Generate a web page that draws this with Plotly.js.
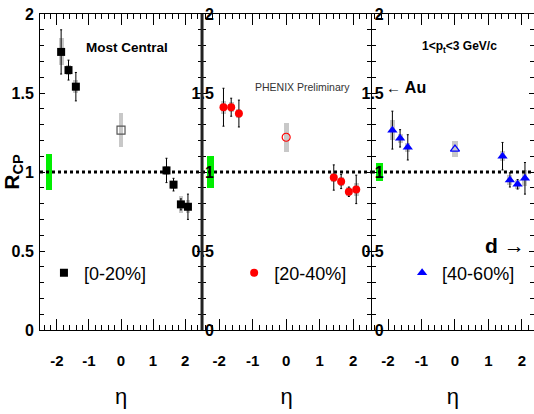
<!DOCTYPE html>
<html>
<head>
<meta charset="utf-8">
<script src="https://cdn.plot.ly/plotly-3.0.1.min.js"></script>
<style>html,body{margin:0;padding:0;background:#fff;}</style>
</head>
<body>
<div id="chart" style="width:534px;height:414px;"></div>
<script>
// ---- data ----
const etaPts = [-1.87, -1.64, -1.41, 1.42, 1.64, 1.87, 2.09];
const r020 = [1.76, 1.645, 1.54, 1.01, 0.92, 0.795, 0.78];
const stat020 = [0.14, 0.063, 0.09, 0.077, 0.04, 0.035, 0.08];
const sys020 = [0.085, 0.03, 0.04, 0.03, 0.025, 0.053, 0.04];
const r2040 = [1.41, 1.41, 1.37, 0.965, 0.94, 0.875, 0.89];
const stat2040 = [0.12, 0.057, 0.085, 0.08, 0.045, 0.03, 0.09];
const sys2040 = [0.04, 0.03, 0.03, 0.03, 0.03, 0.03, 0.04];
const r4060 = [1.265, 1.213, 1.156, 1.10, 0.95, 0.922, 0.96];
const stat4060 = [0.12, 0.055, 0.08, 0.087, 0.045, 0.03, 0.1];
const sys4060 = [0.063, 0.03, 0.03, 0.03, 0.03, 0.03, 0.05];
const etaMid = [0];
const midR = [1.265, 1.22, 1.145];
const midSys = [0.108, 0.093, 0.05];
const normEta = [-2.25];
const normErr = [0.116, 0.10, 0.06];
const centrality = ['[0-20%]', '[20-40%]', '[40-60%]'];
const xTickVals = [-2, -1, 0, 1, 2];
const xTickLabels = ['-2', '-1', '0', '1', '2'];

const FONT = "'Liberation Sans', Arial, sans-serif";
const colors = ['black', 'red', 'blue'];
const symbols = ['square', 'circle', 'triangle-up'];
const openSymbols = ['square-open', 'circle-open', 'triangle-up-open'];
const openColors = ['#555', 'red', 'blue'];
const series = [[r020, stat020, sys020], [r2040, stat2040, sys2040], [r4060, stat4060, sys4060]];

const traces = [];
for (let i = 0; i < 3; i++) {
  const xa = i === 0 ? 'x' : 'x' + (i + 1);
  const ya = i === 0 ? 'y' : 'y' + (i + 1);
  const lg = i === 0 ? 'legend' : 'legend' + (i + 1);
  const [r, st, sy] = series[i];
  // normalization box
  traces.push({type: 'bar', x: normEta, y: [2 * normErr[i]], base: [1 - normErr[i]], width: 0.2,
    marker: {color: '#00ee00', line: {width: 0}}, xaxis: xa, yaxis: ya, showlegend: false, hoverinfo: 'skip'});
  // systematic boxes
  traces.push({type: 'bar', x: etaPts, y: sy.map(v => 2 * v), base: r.map((v, k) => v - sy[k]), width: 0.15,
    marker: {color: '#c8c8c8', line: {width: 0}}, xaxis: xa, yaxis: ya, showlegend: false, hoverinfo: 'skip'});
  traces.push({type: 'bar', x: etaMid, y: [2 * midSys[i]], base: [midR[i] - midSys[i]], width: 0.15,
    marker: {color: '#c8c8c8', line: {width: 0}}, xaxis: xa, yaxis: ya, showlegend: false, hoverinfo: 'skip'});
  // data points
  traces.push({type: 'scatter', mode: 'markers', x: etaPts, y: r, name: centrality[i], legend: lg,
    error_y: {type: 'data', array: st, visible: true, color: 'black', thickness: 1, width: 1},
    marker: {symbol: symbols[i], size: i === 2 ? 9 : 8, color: colors[i]}, xaxis: xa, yaxis: ya, cliponaxis: false});
  traces.push({type: 'scatter', mode: 'markers', x: etaMid, y: [midR[i]], showlegend: false,
    marker: {symbol: openSymbols[i], size: 8, color: openColors[i], line: {width: 1.2, color: openColors[i]}},
    xaxis: xa, yaxis: ya});
}

const xCommon = {
  showgrid: false, zeroline: false, showline: true, linecolor: 'black', linewidth: 1, mirror: 'ticks',
  ticks: 'inside', ticklen: 11, tickwidth: 1, tickcolor: 'black',
  tickvals: xTickVals, ticktext: xTickLabels,
  minor: {dtick: 0.2, tick0: 0, ticks: 'inside', ticklen: 5, tickwidth: 1, tickcolor: 'black'},
  tickfont: {family: FONT, size: 15, weight: 'bold', color: 'black'},
  ticklabelstandoff: 17,
  title: {text: 'η', font: {family: FONT, size: 22, color: 'black'}, standoff: 20},
  fixedrange: true
};
const yCommon = {
  range: [0, 2], domain: [0, 1], showgrid: false, zeroline: false, showline: true, linecolor: 'black', linewidth: 1,
  mirror: 'ticks', ticks: 'inside', ticklen: 5, tickwidth: 1, tickcolor: 'black', dtick: 0.5, tick0: 0,
  minor: {dtick: 0.1, tick0: 0, ticks: 'inside', ticklen: 4, tickwidth: 1, tickcolor: 'black'},
  tickfont: {family: FONT, size: 16, weight: 'bold', color: 'black'},
  fixedrange: true
};

const layout = {
  width: 534, height: 414,
  margin: {l: 40, r: 0, t: 14, b: 84},
  paper_bgcolor: 'white', plot_bgcolor: 'white',
  font: {family: FONT, color: 'black'},
  barmode: 'overlay', bargap: 0,
  showlegend: true,
  xaxis: Object.assign({}, xCommon, {domain: [0, 0.328], range: [-2.53, 2.53], anchor: 'y'}),
  xaxis2: Object.assign({}, xCommon, {domain: [0.328, 0.670], range: [-2.51, 2.53], anchor: 'y2'}),
  xaxis3: Object.assign({}, xCommon, {domain: [0.672, 1], range: [-2.48, 2.36], anchor: 'y3'}),
  yaxis: Object.assign({}, yCommon, {anchor: 'x', ticklabelstandoff: 2,
    title: {text: 'R<sub>CP</sub>', font: {family: FONT, size: 21, weight: 'bold', color: 'black'}, standoff: 2}}),
  yaxis2: Object.assign({}, yCommon, {anchor: 'x2', ticklabelstandoff: -16}),
  yaxis3: Object.assign({}, yCommon, {anchor: 'x3', ticklabelstandoff: -16}),
  legend: {x: 0.008, y: 0.18, xanchor: 'left', yanchor: 'middle', bgcolor: 'rgba(0,0,0,0)', font: {family: FONT, size: 18}},
  legend2: {x: 0.393, y: 0.18, xanchor: 'left', yanchor: 'middle', bgcolor: 'rgba(0,0,0,0)', font: {family: FONT, size: 18}},
  legend3: {x: 0.733, y: 0.18, xanchor: 'left', yanchor: 'middle', bgcolor: 'rgba(0,0,0,0)', font: {family: FONT, size: 18}},
  shapes: [
    {type: 'line', xref: 'x domain', yref: 'y', x0: 0, x1: 1, y0: 1, y1: 1, line: {color: 'black', width: 3, dash: 'dot'}},
    {type: 'line', xref: 'x2 domain', yref: 'y2', x0: 0, x1: 1, y0: 1, y1: 1, line: {color: 'black', width: 3, dash: 'dot'}},
    {type: 'line', xref: 'x3 domain', yref: 'y3', x0: 0, x1: 1, y0: 1, y1: 1, line: {color: 'black', width: 3, dash: 'dot'}},
    {type: 'line', xref: 'x domain', yref: 'y domain', x0: 1, x1: 1, y0: 0, y1: 1, line: {color: '#222', width: 3}}
  ],
  annotations: [
    {xref: 'x', yref: 'y', x: 0.2, y: 1.79, text: 'Most Central', showarrow: false,
      font: {family: FONT, size: 13.5, weight: 'bold', color: 'black'}},
    {xref: 'x2', yref: 'y2', x: 0.5, y: 1.535, text: 'PHENIX Preliminary', showarrow: false,
      font: {family: FONT, size: 10.5, color: '#333'}},
    {xref: 'x3', yref: 'y3', x: 0.14, y: 1.79, text: '1&lt;p<sub>t</sub>&lt;3 GeV/c', showarrow: false,
      font: {family: FONT, size: 12, weight: 'bold', color: 'black'}},
    {xref: 'x3', yref: 'y3', x: -1.47, y: 1.535, text: '←<span style="font-size:16px"> Au</span>', showarrow: false,
      font: {family: FONT, size: 15, weight: 'bold', color: 'black'}},
    {xref: 'x3', yref: 'y3', x: 1.48, y: 0.538, text: '<b>d</b> →', showarrow: false,
      font: {family: FONT, size: 21, color: 'black'}}
  ]
};

Plotly.newPlot('chart', traces, layout, {staticPlot: true, displayModeBar: false});
</script>
</body>
</html>
